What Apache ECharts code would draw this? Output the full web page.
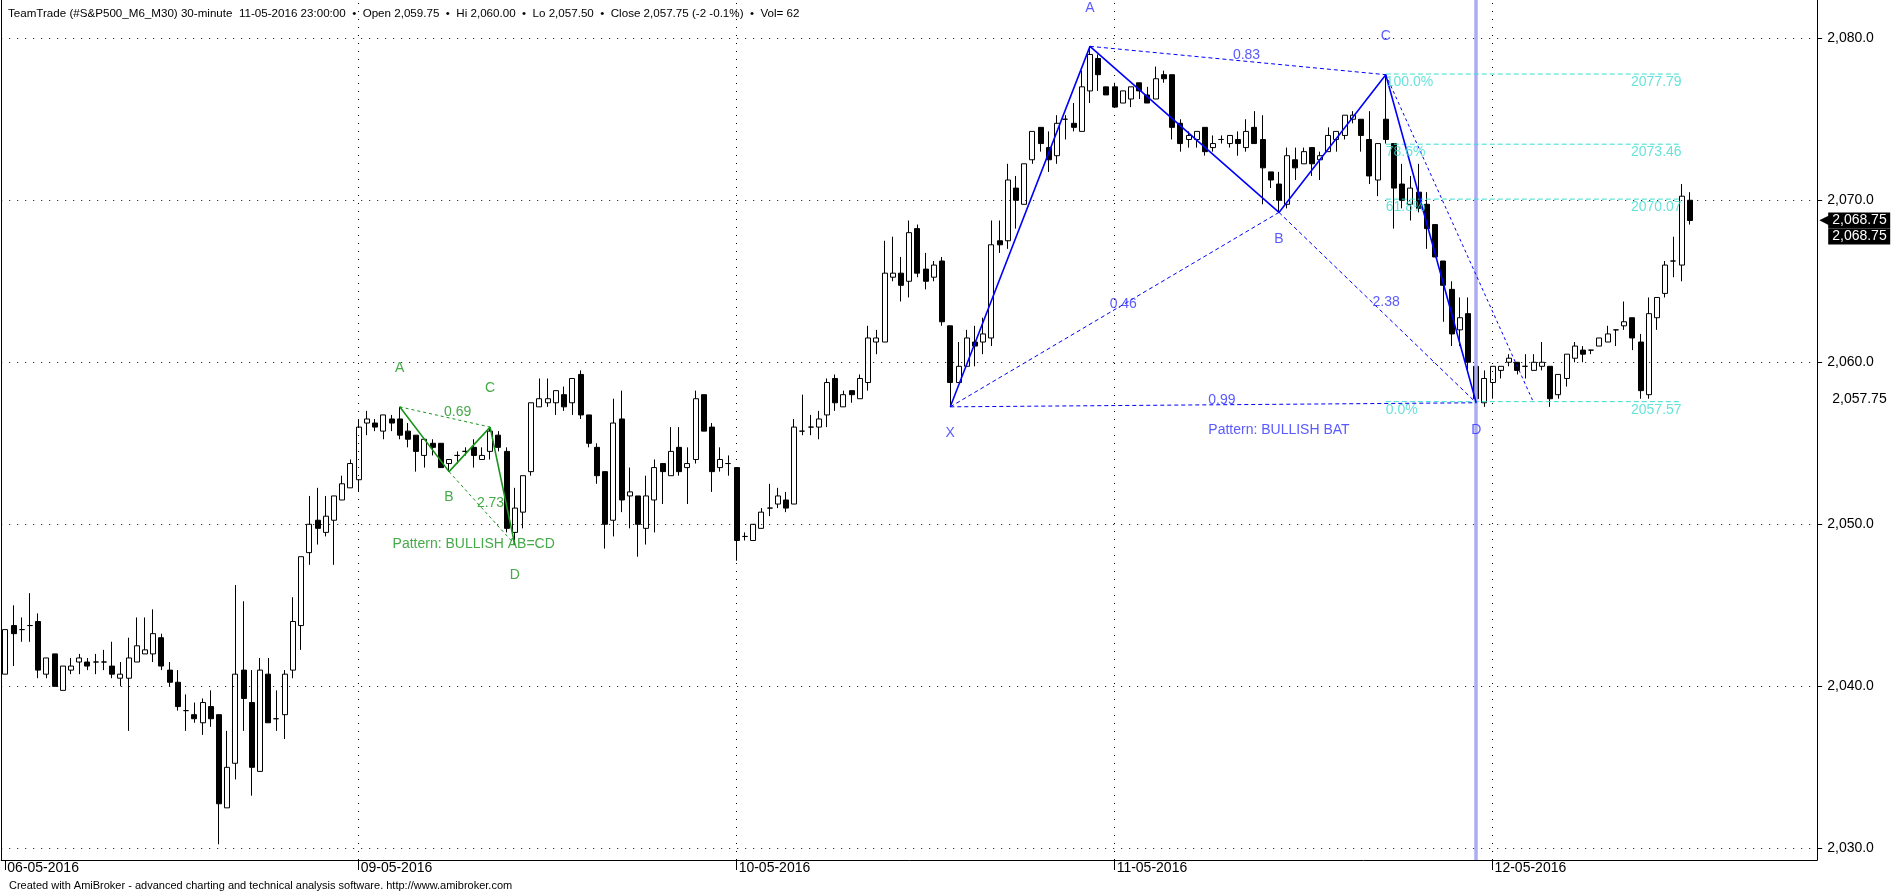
<!DOCTYPE html>
<html><head><meta charset="utf-8">
<script src="https://cdn.jsdelivr.net/npm/echarts@6/dist/echarts.min.js"></script>
<style>html,body{margin:0;padding:0;background:#fff}#c{width:1891px;height:892px}</style>
</head><body><div id="c"></div>
<script>
// ---------------- DATA ----------------
const opens = [2040.75,2043.75,2043.5,2043.75,2044.0,2040.75,2042.0,2039.75,2041.0,2041.5,2041.5,2041.5,2041.5,2041.25,2040.5,2040.5,2041.5,2042.0,2042.0,2043.0,
2041.0,2040.25,2038.5,2038.25,2037.75,2038.75,2038.25,2032.5,2035.25,2041.0,2039.0,2034.75,2040.75,2038.0,2038.25,2041.0,2043.75,2048.25,2050.25,2049.5,
2050.25,2051.5,2052.25,2052.75,2056.25,2056.25,2055.75,2056.5,2056.5,2055.75,2055.5,2054.25,2055.0,2055.0,2053.75,2054.25,2054.5,2054.75,2054.0,2054.5,
2055.5,2054.5,2049.5,2050.75,2053.25,2057.25,2057.5,2057.5,2058.0,2057.5,2059.25,2056.75,2054.75,2053.25,2050.25,2056.5,2051.75,2051.75,2049.75,2051.5,
2053.75,2053.0,2054.75,2053.5,2054.0,2058.0,2056.0,2053.5,2053.75,2053.5,2049.25,2049.0,2049.75,2051.0,2051.25,2051.5,2051.25,2055.75,2056.0,2056.0,
2056.75,2059.0,2057.25,2058.25,2057.75,2058.75,2061.25,2061.25,2065.25,2065.5,2065.0,2068.25,2065.75,2065.25,2066.25,2062.25,2058.75,2059.75,2061.25,2061.25,
2061.5,2067.5,2067.5,2070.75,2069.75,2072.5,2074.5,2073.25,2072.75,2075.0,2074.75,2074.25,2076.75,2078.75,2077.0,2077.0,2076.0,2076.25,2077.25,2076.5,
2076.25,2077.75,2077.75,2074.75,2073.75,2073.75,2074.5,2073.25,2073.75,2073.5,2073.75,2073.25,2074.5,2073.75,2071.75,2071.0,2069.75,2072.5,2072.25,2073.25,
2072.5,2073.0,2073.75,2074.0,2075.0,2075.0,2073.75,2071.25,2075.0,2073.5,2071.0,2069.75,2070.5,2069.75,2068.5,2066.25,2064.5,2062.0,2063.0,2059.75,
2057.5,2058.75,2059.5,2060.0,2060.0,2059.75,2059.5,2059.75,2059.75,2058.0,2059.0,2060.25,2060.75,2060.75,2061.0,2061.25,2062.0,2062.25,2062.75,2061.25,
2058.0,2062.75,2064.25,2066.25,2066.0,2070.0];
const closes = [2043.5,2043.25,2043.5,2043.75,2041.0,2041.75,2040.0,2041.25,2041.25,2041.75,2041.25,2041.5,2041.5,2040.75,2040.75,2041.75,2042.5,2042.25,2043.25,2041.25,
2040.25,2038.75,2038.5,2038.0,2039.0,2038.0,2032.75,2035.0,2040.75,2039.25,2035.0,2041.0,2037.75,2038.0,2040.75,2044.0,2048.0,2050.0,2049.75,2050.5,
2051.75,2052.5,2053.75,2056.0,2056.5,2056.0,2056.75,2056.25,2055.5,2055.25,2054.5,2055.25,2054.75,2053.5,2054.0,2054.25,2054.5,2054.25,2054.25,2055.75,
2054.75,2049.75,2051.0,2053.0,2057.5,2057.75,2057.75,2058.25,2057.25,2059.0,2056.75,2055.0,2053.0,2050.0,2056.25,2051.5,2052.0,2050.0,2051.75,2053.5,
2053.25,2054.5,2053.25,2053.75,2057.75,2055.75,2053.25,2054.0,2053.75,2049.0,2049.25,2050.0,2050.75,2051.0,2051.75,2051.0,2056.0,2055.75,2056.0,2056.5,
2058.75,2057.5,2058.0,2058.0,2059.0,2061.5,2061.5,2065.5,2065.5,2064.75,2068.0,2065.5,2065.0,2066.0,2062.5,2058.75,2059.75,2061.5,2061.0,2061.75,
2067.25,2067.25,2071.25,2070.0,2072.25,2074.25,2073.5,2072.5,2074.75,2075.0,2074.5,2077.0,2079.0,2077.75,2076.5,2075.75,2076.75,2077.0,2076.75,2076.0,
2077.5,2077.5,2074.5,2073.5,2074.0,2074.25,2073.0,2073.5,2073.75,2074.0,2073.5,2074.25,2073.5,2072.0,2071.25,2070.0,2072.75,2072.0,2073.0,2072.25,
2072.75,2074.0,2074.25,2075.25,2075.25,2074.0,2071.5,2073.5,2073.75,2070.75,2070.0,2070.75,2069.5,2068.25,2066.5,2064.75,2061.75,2062.75,2060.0,2057.75,
2059.0,2059.75,2059.75,2060.25,2059.5,2059.75,2060.0,2060.0,2057.75,2059.25,2060.5,2061.0,2060.5,2060.75,2061.5,2061.75,2062.0,2062.5,2061.5,2058.25,
2063.0,2064.0,2066.0,2066.25,2070.25,2068.75];
const lows = [2040.75,2041.25,2042.75,2042.75,2040.5,2040.5,2040.0,2039.75,2040.75,2040.75,2041.0,2040.75,2041.0,2040.5,2040.0,2037.25,2041.5,2042.0,2041.5,2041.0,
2040.0,2038.5,2037.25,2037.75,2037.0,2037.5,2030.25,2032.5,2034.25,2037.25,2033.25,2034.75,2037.75,2037.25,2036.75,2040.5,2042.25,2047.5,2048.75,2049.25,
2047.5,2051.5,2052.25,2052.0,2055.5,2055.75,2055.25,2055.75,2055.25,2054.75,2053.25,2053.5,2054.25,2053.5,2053.25,2053.75,2054.25,2053.5,2054.0,2054.0,
2054.5,2049.5,2049.0,2049.75,2053.0,2057.25,2057.25,2056.75,2057.0,2056.75,2056.5,2054.75,2052.5,2048.5,2049.25,2050.75,2049.75,2048.0,2048.75,2049.5,
2051.25,2053.0,2053.0,2051.25,2053.75,2055.75,2052.0,2053.25,2053.0,2047.75,2049.0,2049.0,2049.75,2050.5,2051.0,2050.75,2051.25,2055.5,2055.5,2055.25,
2056.0,2057.0,2057.25,2057.5,2057.75,2058.25,2060.5,2061.25,2065.0,2063.75,2064.0,2065.25,2064.5,2065.0,2062.25,2057.25,2058.75,2059.75,2059.75,2060.5,
2061.0,2066.75,2067.0,2068.25,2069.75,2072.25,2073.0,2071.75,2072.25,2073.75,2074.25,2074.25,2076.0,2076.75,2076.5,2075.75,2076.0,2075.75,2076.25,2076.0,
2076.25,2077.25,2073.75,2073.0,2073.25,2073.25,2072.75,2073.0,2073.5,2073.25,2072.75,2073.0,2073.5,2069.75,2070.75,2069.25,2069.5,2071.25,2072.25,2071.5,
2071.25,2073.0,2073.0,2073.75,2074.75,2073.0,2071.0,2070.25,2073.5,2068.25,2069.5,2068.75,2069.25,2067.0,2066.5,2062.5,2061.0,2061.0,2059.5,2057.5,
2057.25,2057.75,2059.0,2059.75,2059.25,2059.0,2059.5,2059.5,2057.25,2057.75,2058.5,2060.0,2060.0,2060.5,2061.0,2061.25,2061.0,2062.0,2060.75,2057.75,
2057.75,2062.0,2064.0,2065.25,2065.0,2068.5];
const highs = [2043.5,2045.0,2044.25,2045.75,2044.5,2041.75,2042.0,2041.25,2041.75,2042.0,2041.75,2042.0,2042.25,2042.75,2041.5,2043.0,2044.25,2044.25,2044.75,2043.25,
2041.5,2041.0,2039.5,2039.0,2039.25,2039.75,2038.25,2037.25,2046.25,2045.25,2041.0,2041.75,2041.75,2039.75,2041.0,2045.5,2048.0,2051.75,2052.25,2051.75,
2051.75,2053.0,2054.0,2056.5,2057.0,2056.5,2056.75,2056.75,2057.25,2056.25,2055.5,2055.25,2055.25,2055.0,2054.0,2054.5,2054.75,2055.25,2054.75,2056.0,
2055.75,2054.75,2052.25,2053.0,2057.5,2059.0,2059.0,2058.25,2058.5,2059.0,2059.5,2056.75,2055.0,2053.25,2057.75,2058.25,2053.5,2051.75,2053.0,2054.0,
2053.75,2056.0,2056.0,2054.75,2058.25,2058.0,2056.25,2054.75,2054.25,2053.5,2049.5,2050.0,2051.0,2052.5,2052.25,2052.0,2056.5,2058.0,2056.75,2057.0,
2059.0,2059.25,2058.25,2058.25,2059.25,2062.25,2062.0,2067.5,2067.75,2066.5,2068.75,2068.5,2066.75,2066.25,2066.5,2062.25,2061.25,2062.0,2062.25,2062.75,
2068.75,2068.75,2072.25,2071.5,2072.25,2074.25,2074.5,2074.25,2075.25,2075.25,2076.0,2078.0,2079.5,2079.0,2077.0,2077.25,2076.75,2077.0,2077.25,2077.0,
2078.25,2078.0,2077.75,2075.0,2074.25,2074.25,2074.5,2074.0,2074.0,2074.0,2074.25,2075.0,2075.5,2075.25,2071.75,2071.75,2073.25,2073.25,2073.25,2073.25,
2073.0,2074.5,2074.25,2075.25,2075.5,2075.0,2075.5,2073.5,2077.75,2073.5,2072.25,2071.5,2072.25,2070.5,2068.5,2066.25,2065.0,2064.0,2064.0,2060.0,
2059.5,2059.75,2059.75,2060.5,2060.0,2060.5,2060.5,2061.25,2059.75,2059.25,2060.5,2061.25,2061.0,2060.75,2061.5,2062.25,2062.0,2063.75,2062.75,2061.75,
2064.0,2064.0,2066.25,2067.75,2071.0,2070.5];

const totalSlots = 221;                       // bar slots on the time axis (incl. empty right margin)
const dayStartIdx = [0, 43, 89, 135, 181];
const dayLabels = ['06-05-2016', '09-05-2016', '10-05-2016', '11-05-2016', '12-05-2016'];
const yTicks = [2030, 2040, 2050, 2060, 2070, 2080];
const yMin = 2029.28, yMax = 2082.36;
const selectedIdx = 179;

// Bullish BAT (X, A, B, C, D)
const batNames = ['X', 'A', 'B', 'C', 'D'];
const batIdx = [115, 132, 155, 168, 179];
const batVal = [2057.25, 2079.5, 2069.25, 2077.75, 2057.5];
const batRatios = { XB: '0.46', AC: '0.83', BD: '2.38', XD: '0.99' };
const batProjection = [186, 2057.5];
const batText = 'Pattern: BULLISH BAT';

// Bullish AB=CD (A, B, C, D)
const abcdNames = ['A', 'B', 'C', 'D'];
const abcdIdx = [48, 54, 59, 62];
const abcdVal = [2057.25, 2053.25, 2056.0, 2048.75];
const abcdRatios = { AC: '0.69', BD: '2.73' };
const abcdText = 'Pattern: BULLISH AB=CD';

// Fibonacci retracement of C -> D
const fibPct = ['100.0%', '78.6%', '61.8%', '0.0%'];
const fibVal = [2077.79, 2073.46, 2070.07, 2057.57];
const fibFromIdx = 168, fibToIdx = 204;

const headerText = 'TeamTrade (#S&P500_M6_M30) 30-minute  11-05-2016 23:00:00  \u2022  Open 2,059.75  \u2022  Hi 2,060.00  \u2022  Lo 2,057.50  \u2022  Close 2,057.75 (-2 -0.1%)  \u2022  Vol= 62';
const creditText = 'Created with AmiBroker - advanced charting and technical analysis software. http://www.amibroker.com';

// ---------------- CHART ----------------
const FONT = "'Liberation Sans', Arial, sans-serif";
const NARROW = "'Liberation Sans Narrow', 'Liberation Sans', Arial, sans-serif";
const BLUE = '#0000ff', BLUE_TXT = '#2f2fff', GREEN = '#17941a', CYAN = '#3fdcd0';

const categories = Array.from({ length: totalSlots }, (_, i) => String(i));
const candles = opens.map((o, i) => [o, closes[i], lows[i], highs[i]]);
const fmt2 = v => v.toLocaleString('en-US', { minimumFractionDigits: 2, maximumFractionDigits: 2 });
const fmt1 = v => v.toLocaleString('en-US', { minimumFractionDigits: 1, maximumFractionDigits: 1 });

function seg(p, q, color, type, width) {
  return { type: 'line', data: [p, q], symbol: 'none', silent: true, z: 5,
    lineStyle: { color, type, width }, animation: false };
}
function texts(items, color, size) {
  return { type: 'scatter', symbolSize: 0, silent: true, z: 6, animation: false,
    data: items.map(it => ({ value: it.at, name: it.t,
      label: Object.assign({ show: true, formatter: it.t, color, fontSize: size, fontFamily: FONT }, it.lab) })) };
}
const mid = (p, q) => [(p[0] + q[0]) / 2, (p[1] + q[1]) / 2];
const ratioLab = { position: [-5, -12], align: 'left', verticalAlign: 'top' };

const bat = batIdx.map((x, i) => [x, batVal[i]]);
const [X, A, B, C, D] = bat;
const ab = abcdIdx.map((x, i) => [x, abcdVal[i]]);
const [gA, gB, gC, gD] = ab;
const lastClose = closes[closes.length - 1];
const selClose = closes[selectedIdx];

const series = [];
// background: grid lines, day separators, selected bar line
series.push({
  type: 'scatter', data: [], z: 1, silent: true,
  markLine: {
    silent: true, symbol: ['none', 'none'], animation: false,
    label: { show: false },
    data: [
      ...yTicks.map(v => ({ yAxis: v, lineStyle: { color: '#000', type: [1, 7], width: 1 } })),
      ...dayStartIdx.slice(1).map(i => ({ xAxis: i, lineStyle: { color: '#000', type: [1, 7], width: 1 } })),
      { xAxis: selectedIdx, lineStyle: { color: '#acacf2', type: 'solid', width: 3.5 } }
    ]
  }
});
// right-side price tags (selected bar close, last close)
series.push({
  type: 'scatter', data: [], z: 7, silent: true,
  markLine: {
    silent: true, symbol: ['none', 'none'], animation: false,
    data: [
      { yAxis: selClose, lineStyle: { color: 'rgba(0,0,0,0)', width: 0 },
        label: { show: true, opacity: 1, position: 'end', distance: 15, formatter: fmt2(selClose),
          color: '#000', fontSize: 14, fontFamily: FONT } },
      { yAxis: lastClose, lineStyle: { color: 'rgba(0,0,0,0)', width: 0 },
        label: { show: true, opacity: 1, position: 'end', distance: 2,
          formatter: '{sp|}\n{ar|\u25C0}{bx|' + fmt2(lastClose) + '}\n{gap|}{bx|' + fmt2(lastClose) + '}',
          rich: {
            sp: { height: 16, lineHeight: 16 },
            ar: { color: '#000', fontSize: 14, width: 9, height: 16, lineHeight: 16, fontFamily: 'DejaVu Sans' },
            gap: { width: 9, height: 16 },
            bx: { color: '#fff', backgroundColor: '#000', fontSize: 14, fontFamily: FONT, width: 58, height: 16, lineHeight: 16, padding: [0, 0, 0, 4] }
          } } }
    ]
  }
});
// candles
series.push({
  type: 'candlestick', data: candles, z: 3, barWidth: 5.5, silent: true, animation: false,
  itemStyle: { color: '#ffffff', color0: '#000000', borderColor: '#000000', borderColor0: '#000000', borderColorDoji: '#000000', borderWidth: 1 }
});
// fib levels
fibVal.forEach(v => series.push(seg([fibFromIdx, v], [fibToIdx, v], CYAN, [5, 3], 1)));
// BAT dashed + solid
series.push(seg(X, B, BLUE, [4, 3], 1));
series.push(seg(A, C, BLUE, [4, 3], 1));
series.push(seg(B, D, BLUE, [4, 3], 1));
series.push(seg(X, D, BLUE, [4, 3], 1));
series.push(seg(C, batProjection, BLUE, [3, 3], 1));
series.push({ type: 'line', data: bat, symbol: 'none', silent: true, z: 5, animation: false, lineStyle: { color: BLUE, width: 1.6 } });
// AB=CD dashed + solid
series.push(seg(gA, gC, GREEN, [3, 3], 1));
series.push(seg(gB, gD, GREEN, [3, 3], 1));
series.push({ type: 'line', data: ab, symbol: 'none', silent: true, z: 5, animation: false, lineStyle: { color: GREEN, width: 1.6 } });

// texts
const batSide = [['bottom', 19], ['top', 31], ['bottom', 20], ['top', 32], ['bottom', 20]];
series.push(texts([
  ...bat.map((p, i) => ({ at: p, t: batNames[i], lab: { position: batSide[i][0], distance: batSide[i][1] } })),
  { at: mid(X, B), t: batRatios.XB, lab: ratioLab },
  { at: mid(A, C), t: batRatios.AC, lab: ratioLab },
  { at: mid(B, D), t: batRatios.BD, lab: ratioLab },
  { at: mid(X, D), t: batRatios.XD, lab: ratioLab },
  { at: [B[0], D[1]], t: batText, lab: { position: 'bottom', distance: 20 } }
], BLUE_TXT, 14));
const abSide = [['top', 32], ['bottom', 19], ['top', 32], ['bottom', 24]];
series.push(texts([
  ...ab.map((p, i) => ({ at: p, t: abcdNames[i], lab: { position: abSide[i][0], distance: abSide[i][1] } })),
  { at: mid(gA, gC), t: abcdRatios.AC, lab: ratioLab },
  { at: mid(gB, gD), t: abcdRatios.BD, lab: ratioLab },
  { at: [(gB[0] + gD[0]) / 2 - 1, gD[1]], t: abcdText, lab: { position: 'inside' } }
], GREEN, 14));
series.push(texts([
  ...fibVal.map((v, i) => ({ at: [fibFromIdx, v], t: fibPct[i], lab: { position: [0, 1], align: 'left', verticalAlign: 'top' } })),
  ...fibVal.map(v => ({ at: [fibToIdx, v], t: v.toFixed(2), lab: { position: [0, 1], align: 'right', verticalAlign: 'top' } }))
], CYAN, 14));

const isDayStart = i => dayStartIdx.indexOf(i) >= 0;

const option = {
  animation: false,
  backgroundColor: '#ffffff',
  textStyle: { fontFamily: FONT },
  title: [
    { text: headerText, left: 3, top: 3, textStyle: { fontSize: 11.6, fontWeight: 'normal', color: '#000', fontFamily: NARROW } },
    { text: creditText, left: 4, top: 875, textStyle: { fontSize: 11, fontWeight: 'normal', color: '#000', fontFamily: NARROW } }
  ],
  grid: { left: 1.2, top: 0, width: 1816, height: 860, containLabel: false },
  xAxis: {
    type: 'category', data: categories, boundaryGap: true,
    axisLine: { lineStyle: { color: '#000', width: 1 } },
    axisTick: { show: true, interval: (i) => isDayStart(i), alignWithLabel: true, length: 10, lineStyle: { color: '#000' } },
    axisLabel: { interval: (i) => isDayStart(i), formatter: (v, i) => dayLabels[dayStartIdx.indexOf(i)],
      align: 'left', margin: 1, padding: [0, 0, 0, 2], color: '#000', fontSize: 14, fontFamily: NARROW },
    splitLine: { show: false }
  },
  yAxis: [
    { type: 'value', position: 'right', min: yMin, max: yMax, scale: true,
      axisLine: { show: true, lineStyle: { color: '#000', width: 1 } },
      axisTick: { show: true, customValues: yTicks, length: 5, lineStyle: { color: '#000' } },
      axisLabel: { show: true, customValues: yTicks, formatter: v => fmt1(v), color: '#000', fontSize: 14, margin: 10, fontFamily: FONT },
      splitLine: { show: false } },
    { type: 'value', position: 'left', min: yMin, max: yMax,
      axisLine: { show: true, lineStyle: { color: '#000', width: 1 } },
      axisTick: { show: false }, axisLabel: { show: false }, splitLine: { show: false } }
  ],
  series
};
const chart = echarts.init(document.getElementById('c'), null, { renderer: 'canvas' });
chart.setOption(option);
</script>
</body></html>
